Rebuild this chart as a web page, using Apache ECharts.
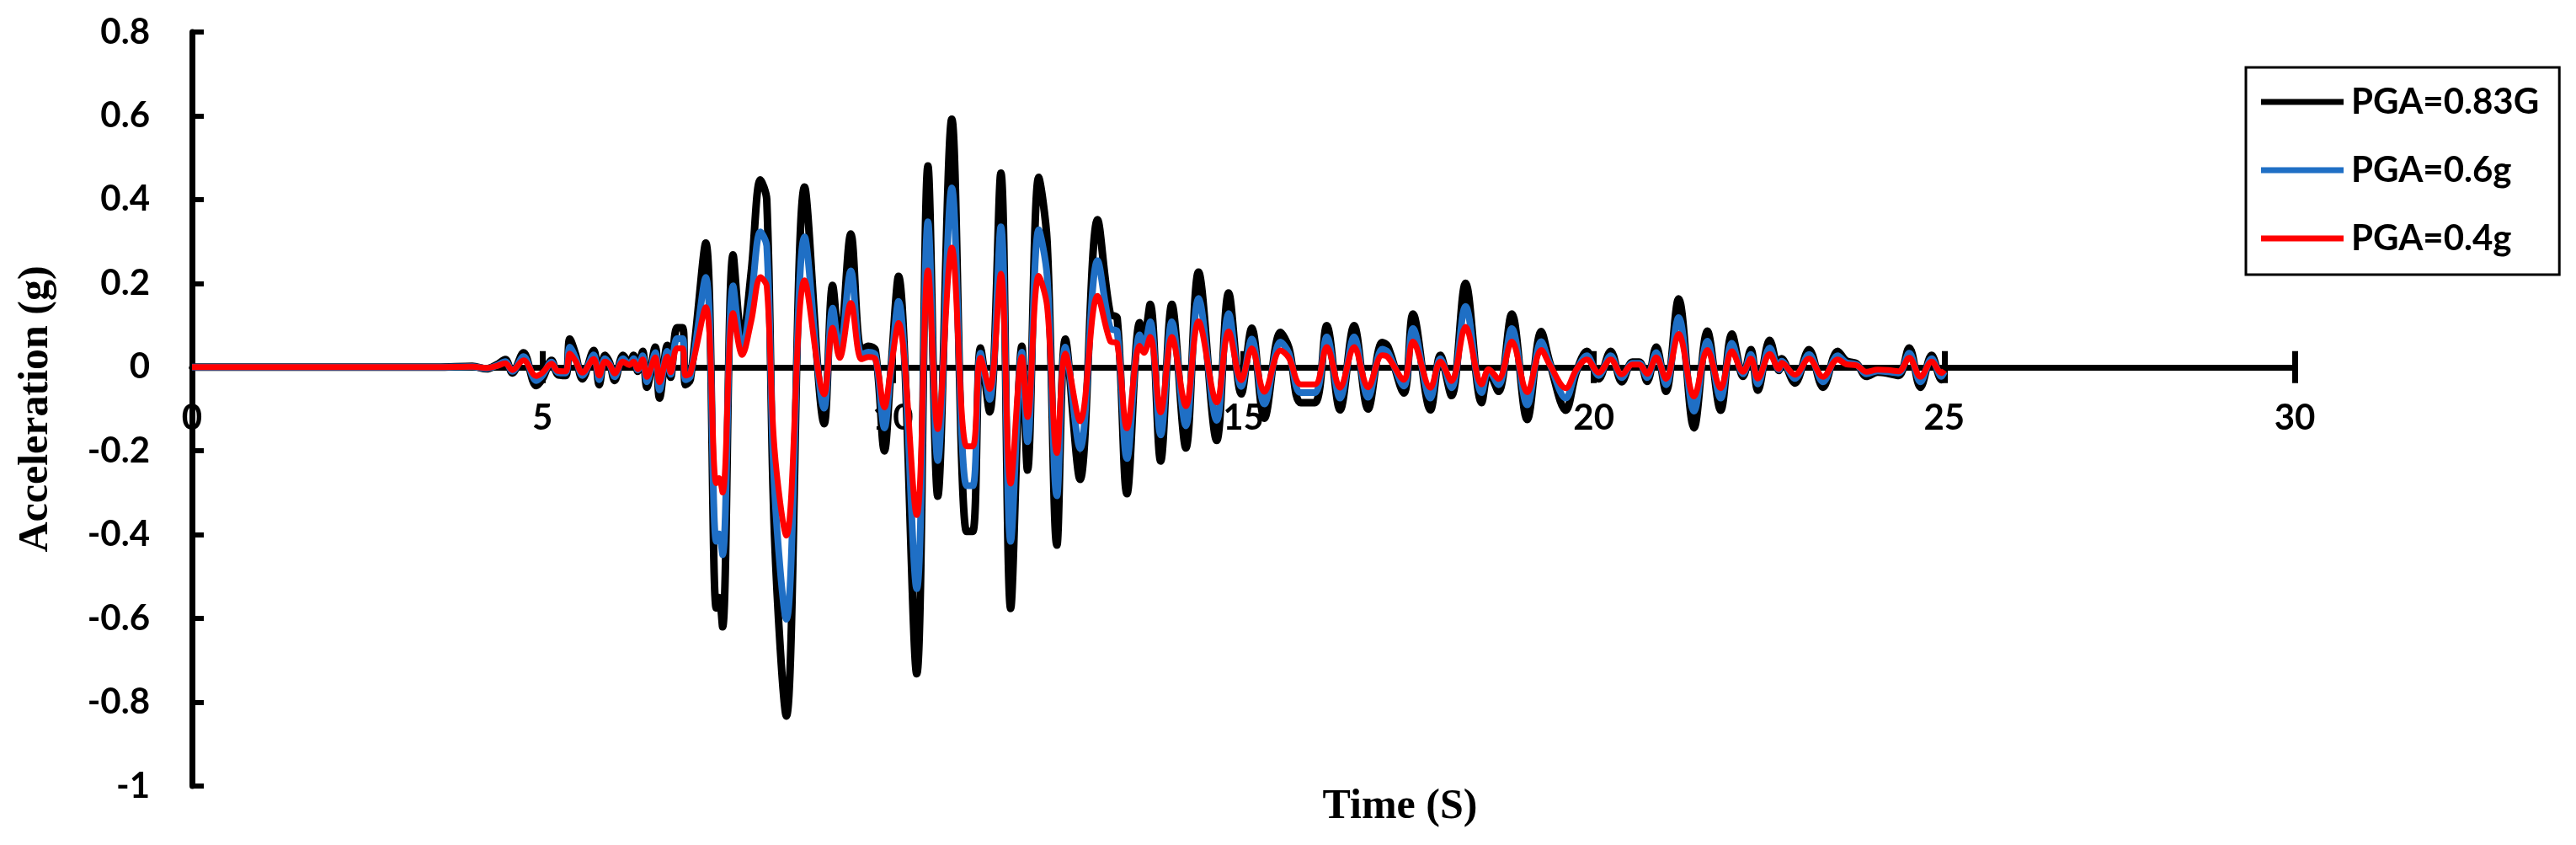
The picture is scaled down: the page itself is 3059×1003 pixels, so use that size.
<!DOCTYPE html>
<html>
<head>
<meta charset="utf-8">
<script src="https://cdn.jsdelivr.net/npm/echarts@6/dist/echarts.min.js"></script>
<style>
html,body{margin:0;padding:0;background:#ffffff;}
#chart{width:3059px;height:1003px;}
</style>
</head>
<body>
<div id="chart"></div>
<script>
// Time (s)
const time = [0,1,2,3,3.5,4.0,4.2,4.35,4.47,4.57,4.73,4.91,5.0,5.13,5.22,5.33,5.39,5.47,5.57,5.73,5.81,5.89,5.96,6.03,6.15,6.24,6.3,6.36,6.43,6.49,6.61,6.67,6.78,6.83,6.92,7.0,7.04,7.11,7.33,7.48,7.52,7.57,7.72,7.85,7.98,8.11,8.2,8.31,8.48,8.74,9.02,9.14,9.24,9.40,9.55,9.65,9.75,9.88,9.96,10.08,10.34,10.5,10.64,10.84,11.05,11.14,11.25,11.38,11.54,11.68,11.84,11.92,12.08,12.2,12.34,12.46,12.67,12.92,13.1,13.2,13.34,13.52,13.58,13.67,13.82,13.98,14.18,14.36,14.62,14.79,14.97,15.12,15.3,15.53,15.65,15.82,16.02,16.19,16.38,16.58,16.78,16.98,17.06,17.29,17.42,17.67,17.81,17.97,18.17,18.4,18.5,18.64,18.83,19.05,19.25,19.37,19.6,19.75,19.9,20.07,20.24,20.4,20.55,20.65,20.76,20.89,21.03,21.21,21.43,21.62,21.81,21.97,22.13,22.24,22.34,22.51,22.64,22.68,22.87,23.07,23.27,23.48,23.6,23.75,23.89,24.05,24.2,24.35,24.5,24.66,24.82,24.96,25.0];
// PGA = 0.83G
const pga083 = [0,0,0,0,0,0.002,-0.004,0.006,0.018,-0.014,0.034,-0.044,-0.028,0.016,-0.018,-0.02,0.067,0.032,-0.028,0.04,-0.042,0.028,0.01,-0.032,0.028,0.01,0.028,-0.01,0.038,-0.048,0.048,-0.074,0.052,-0.024,0.094,0.094,-0.042,-0.03,0.296,-0.575,-0.55,-0.62,0.268,0.06,0.23,0.447,0.40,-0.40,-0.833,0.43,-0.135,0.195,0.045,0.318,0.04,0.05,0.04,-0.2,-0.035,0.217,-0.732,0.48,-0.308,0.592,-0.392,-0.392,0.046,-0.107,0.463,-0.576,0.05,-0.246,0.453,0.3,-0.425,0.067,-0.268,0.352,0.128,0.117,-0.302,0.106,0.07,0.15,-0.224,0.15,-0.193,0.227,-0.175,0.177,-0.064,0.093,-0.122,0.083,0.046,-0.085,-0.085,0.099,-0.102,0.099,-0.1,0.059,0.05,-0.062,0.127,-0.102,0.028,-0.068,0.2,-0.085,-0.01,-0.058,0.127,-0.125,0.085,0.012,-0.103,-0.012,0.038,-0.028,0.038,-0.035,0.012,0.012,-0.034,0.048,-0.058,0.163,-0.145,0.086,-0.103,0.079,-0.022,0.042,-0.055,0.064,-0.008,0.02,-0.038,0.042,-0.048,0.038,0.015,0.008,-0.022,-0.012,-0.015,-0.02,0.046,-0.048,0.028,-0.03,-0.015];
// PGA = 0.6g
const pga06 = [0,0,0,0,0,0.001,-0.003,0.004,0.013,-0.010,0.025,-0.032,-0.020,0.012,-0.013,-0.014,0.048,0.023,-0.020,0.029,-0.030,0.020,0.007,-0.023,0.020,0.007,0.020,-0.007,0.027,-0.035,0.035,-0.054,0.038,-0.017,0.068,0.068,-0.030,-0.022,0.214,-0.416,-0.398,-0.448,0.194,0.043,0.166,0.323,0.289,-0.289,-0.602,0.311,-0.098,0.141,0.033,0.230,0.029,0.036,0.029,-0.145,-0.025,0.157,-0.529,0.347,-0.223,0.428,-0.283,-0.283,0.033,-0.077,0.335,-0.416,0.036,-0.178,0.328,0.217,-0.307,0.048,-0.194,0.254,0.093,0.085,-0.218,0.077,0.051,0.108,-0.162,0.108,-0.140,0.164,-0.127,0.128,-0.046,0.067,-0.088,0.060,0.033,-0.061,-0.061,0.072,-0.074,0.072,-0.072,0.043,0.036,-0.045,0.092,-0.074,0.020,-0.049,0.145,-0.061,-0.007,-0.042,0.092,-0.090,0.061,0.009,-0.074,-0.009,0.027,-0.020,0.027,-0.025,0.009,0.009,-0.025,0.035,-0.042,0.118,-0.105,0.062,-0.074,0.057,-0.016,0.030,-0.040,0.046,-0.006,0.014,-0.027,0.030,-0.035,0.027,0.011,0.006,-0.016,-0.009,-0.011,-0.014,0.033,-0.035,0.020,-0.022,-0.011];
// PGA = 0.4g
const pga04 = [0,0,0,0,0,0.001,-0.002,0.003,0.009,-0.007,0.016,-0.021,-0.013,0.008,-0.009,-0.010,0.032,0.015,-0.013,0.019,-0.020,0.013,0.005,-0.015,0.013,0.005,0.013,-0.005,0.018,-0.023,0.023,-0.036,0.025,-0.012,0.045,0.045,-0.020,-0.014,0.143,-0.277,-0.265,-0.299,0.129,0.029,0.111,0.215,0.193,-0.193,-0.402,0.207,-0.065,0.094,0.022,0.153,0.019,0.024,0.019,-0.096,-0.017,0.105,-0.353,0.231,-0.148,0.285,-0.189,-0.189,0.022,-0.052,0.223,-0.278,0.024,-0.119,0.218,0.145,-0.205,0.032,-0.129,0.170,0.062,0.056,-0.146,0.051,0.034,0.072,-0.108,0.072,-0.093,0.109,-0.084,0.085,-0.031,0.045,-0.059,0.040,0.022,-0.041,-0.041,0.048,-0.049,0.048,-0.048,0.028,0.024,-0.030,0.061,-0.049,0.013,-0.033,0.096,-0.041,-0.005,-0.028,0.061,-0.060,0.041,0.006,-0.050,-0.006,0.018,-0.013,0.018,-0.017,0.006,0.006,-0.016,0.023,-0.028,0.079,-0.070,0.041,-0.050,0.038,-0.011,0.020,-0.027,0.031,-0.004,0.010,-0.018,0.020,-0.023,0.018,0.007,0.004,-0.011,-0.006,-0.007,-0.010,0.022,-0.023,0.013,-0.014,-0.007];

const seriesNames = ['PGA=0.83G', 'PGA=0.6g', 'PGA=0.4g'];
const seriesColors = ['#000000', '#1F6FC5', '#FF0000'];
const seriesWidths = [9, 8, 7];
const xTitle = 'Time (S)';
const yTitle = 'Acceleration (g)';

const yMin = -1, yMax = 0.8;
const pair = arr => time.map((t, i) => [t, arr[i]]);
const values = [pga083, pga06, pga04];

const labelFont = { fontFamily: 'Lato', fontWeight: 'bold', fontSize: 42, color: '#000' };
const titleFont = { fontFamily: 'Liberation Serif', fontWeight: 'bold', fontSize: 50, color: '#000' };

// grid layout (pixels)
const gridTop = 38, gridBottom = 70, chartH = 1003;
const plotH = chartH - gridTop - gridBottom;
// distance of the zero line from the bottom / top edge of the plot
const zeroFromBottom = plotH * (0 - yMin) / (yMax - yMin);
const zeroFromTop = plotH - zeroFromBottom;

const chart = echarts.init(document.getElementById('chart'), null, { renderer: 'canvas' });
chart.setOption({
  backgroundColor: '#ffffff',
  animation: false,
  grid: { left: 228, right: 334, top: gridTop, bottom: gridBottom, containLabel: false, outerBoundsMode: 'none' },
  legend: {
    orient: 'vertical',
    left: 2667,
    top: 80,
    data: seriesNames,
    icon: 'rect',
    itemWidth: 98,
    itemHeight: 7,
    itemGap: 39,
    padding: [20, 24, 22, 18],
    borderColor: '#000',
    borderWidth: 3,
    textStyle: Object.assign({}, labelFont, { padding: [0, 0, 0, 4] })
  },
  xAxis: [
    {
      type: 'value', min: 0, max: 30, interval: 5, position: 'bottom', offset: -zeroFromBottom,
      name: xTitle, nameLocation: 'middle', nameGap: 497,
      nameTextStyle: Object.assign({}, titleFont, { padding: [0, 0, 0, 372] }),
      axisLine: { show: true, onZero: false, lineStyle: { color: '#000', width: 7 } },
      axisTick: { show: true, inside: false, length: 19, lineStyle: { color: '#000', width: 7 } },
      axisLabel: Object.assign({}, labelFont, { margin: 40 }),
      splitLine: { show: false }
    },
    {
      type: 'value', min: 0, max: 30, interval: 5, position: 'top', offset: -zeroFromTop,
      axisLine: { show: true, onZero: false, lineStyle: { color: '#000', width: 7 } },
      axisTick: { show: true, inside: false, length: 19, lineStyle: { color: '#000', width: 7 } },
      axisLabel: { show: false },
      splitLine: { show: false }
    }
  ],
  yAxis: {
    type: 'value', min: yMin, max: yMax, interval: 0.2,
    name: yTitle, nameLocation: 'middle', nameGap: 160, nameRotate: 90,
    nameTextStyle: titleFont,
    axisLine: { show: true, onZero: false, lineStyle: { color: '#000', width: 7 } },
    axisTick: { show: true, inside: true, length: 14, lineStyle: { color: '#000', width: 6 } },
    axisLabel: Object.assign({}, labelFont, { margin: 50 }),
    splitLine: { show: false }
  },
  series: values.map((arr, k) => ({
    name: seriesNames[k],
    type: 'line',
    xAxisIndex: 0,
    yAxisIndex: 0,
    data: pair(arr),
    smooth: 0.35,
    symbol: 'none',
    lineStyle: { color: seriesColors[k], width: seriesWidths[k] },
    itemStyle: { color: seriesColors[k] },
    z: 2 + k
  }))
});
</script>
</body>
</html>
